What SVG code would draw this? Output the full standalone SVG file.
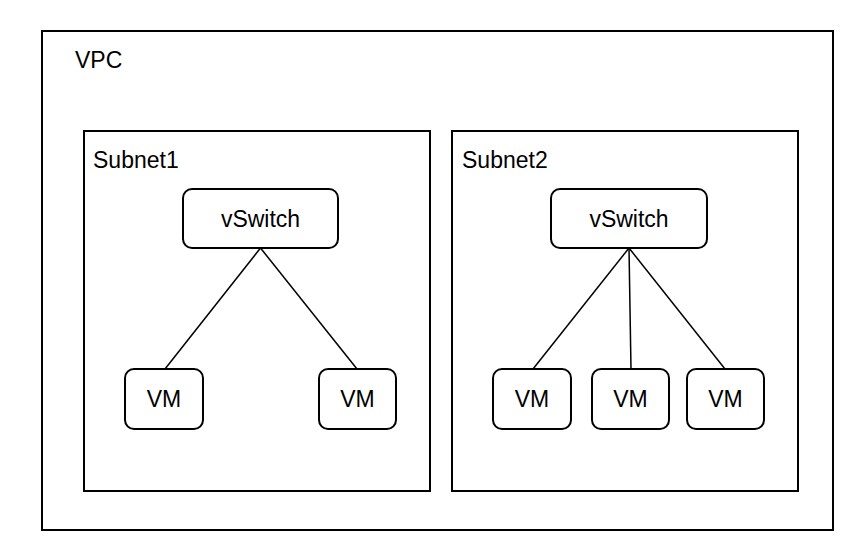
<svg xmlns="http://www.w3.org/2000/svg" width="868" height="554" viewBox="0 0 868 554">
<style>
.box{fill:#fff;stroke:#000;stroke-width:2}
.node{fill:#fff;stroke:#000;stroke-width:2}
.edge{stroke:#000;stroke-width:1.5;fill:none}
text{font-family:"Liberation Sans",Arial,sans-serif;font-size:23px;fill:#000}
.c{text-anchor:middle}
</style>
<rect width="868" height="554" fill="#fff"/>
<g id="vpc"><rect class="box" x="42" y="31" width="791" height="499"/><text x="75" y="68">VPC</text></g>
<g id="subnet1"><rect class="box" x="84" y="131" width="346" height="360"/><text x="93" y="168">Subnet1</text></g>
<g id="subnet2"><rect class="box" x="452" y="131" width="346" height="360"/><text x="462" y="168">Subnet2</text></g>
<g id="connectors">
<line class="edge" x1="260.5" y1="248" x2="165" y2="369"/>
<line class="edge" x1="260.5" y1="248" x2="357" y2="369"/>
<line class="edge" x1="629" y1="248" x2="533" y2="369"/>
<line class="edge" x1="629" y1="248" x2="631" y2="369"/>
<line class="edge" x1="629" y1="248" x2="725" y2="369"/>
</g>
<g id="vswitch1"><rect class="node" x="183" y="189" width="155" height="59" rx="9"/><text class="c" x="260.5" y="227">vSwitch</text></g>
<g id="vswitch2"><rect class="node" x="551" y="189" width="156" height="59" rx="9"/><text class="c" x="629" y="227">vSwitch</text></g>
<g id="vm1"><rect class="node" x="125" y="369" width="78" height="60" rx="9"/><text class="c" x="164" y="407">VM</text></g>
<g id="vm2"><rect class="node" x="319" y="369" width="77" height="60" rx="9"/><text class="c" x="357.5" y="407">VM</text></g>
<g id="vm3"><rect class="node" x="493" y="369" width="78" height="60" rx="9"/><text class="c" x="532" y="407">VM</text></g>
<g id="vm4"><rect class="node" x="592" y="369" width="77" height="60" rx="9"/><text class="c" x="630.5" y="407">VM</text></g>
<g id="vm5"><rect class="node" x="687" y="369" width="77" height="60" rx="9"/><text class="c" x="725.5" y="407">VM</text></g>
</svg>
